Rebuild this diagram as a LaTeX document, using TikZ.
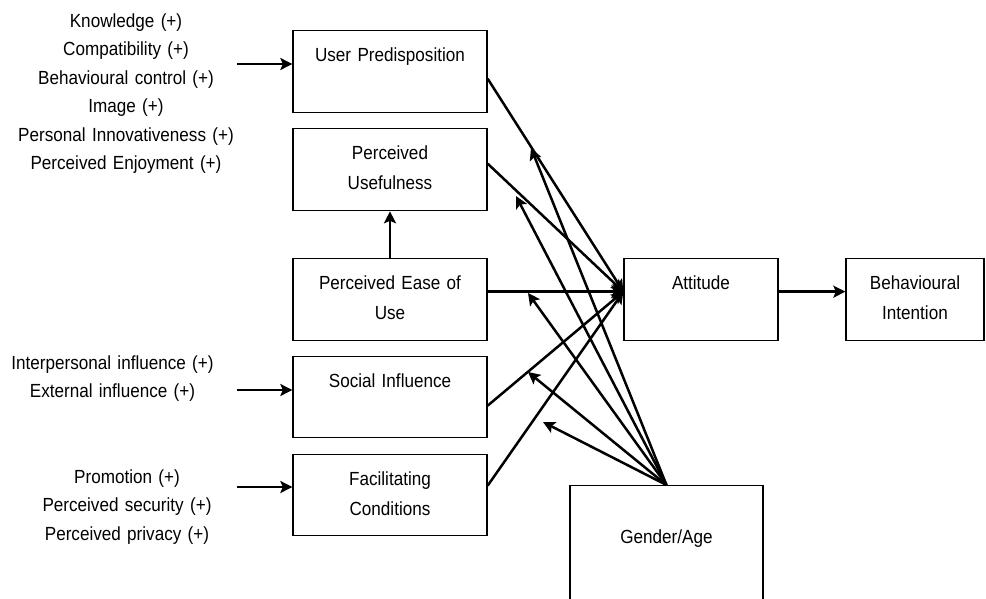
\documentclass[tikz,border=0pt]{standalone}
\usepackage{fontspec}
\setmainfont{Liberation Sans}[FakeStretch=0.9]
\usepackage{tikz}
\usetikzlibrary{arrows.meta}
\tikzstyle{block} = [draw,line width=1.3pt,anchor=north,inner sep=0pt,align=center,text height=31pt,text depth=51pt]
\tikzstyle{factors} = [anchor=north,inner sep=0pt,align=center,text width=250pt,text height=13pt,font=\fontsize{19pt}{28.5pt}\selectfont]
\tikzstyle{arrow} = [line width=2.5pt,-{Stealth[length=12pt,width=12pt,inset=2.5pt]}]

\begin{document}
\begin{tikzpicture}[x=1pt,y=-1pt,font=\fontsize{19pt}{30pt}\selectfont]
\useasboundingbox (0,0) rectangle (986,598);
\clip (0,0) rectangle (986,598);
% factor lists
\node[factors] (upfac) at (126,14) {Knowledge (+)\\Compatibility (+)\\Behavioural control (+)\\Image (+)\\Personal Innovativeness (+)\\Perceived Enjoyment (+)};
\node[factors] (sifac) at (112.5,356) {Interpersonal influence (+)\\External influence (+)};
\node[factors] (fcfac) at (127,470) {Promotion (+)\\Perceived security (+)\\Perceived privacy (+)};
% boxes
\node[block,text width=194pt] (up) at (390,30) {User Predisposition};
\node[block,text width=194pt] (pu) at (390,128) {Perceived\\Usefulness};
\node[block,text width=194pt] (pe) at (390,258) {Perceived Ease of\\Use};
\node[block,text width=194pt,text depth=50pt] (si) at (390,356) {Social Influence};
\node[block,text width=194pt,text depth=50pt] (fc) at (390,454) {Facilitating\\Conditions};
\node[block,text width=154pt] (att) at (701,258) {Attitude};
\node[block,text width=138pt] (bi) at (915,258) {Behavioural\\Intention};
\node[block,text width=193pt,text height=58pt,text depth=150pt] (ga) at (666.5,485) {Gender/Age};
% free ends
\coordinate (upsrc) at (237,64);
\coordinate (sisrc) at (237,390);
\coordinate (fcsrc) at (237,487);
\coordinate (attin) at ([yshift=8pt]att.west);
\coordinate (mup) at (531,148);
\coordinate (mpu) at (516,196);
\coordinate (mpe) at (528,293);
\coordinate (msi) at (528,372);
\coordinate (mfc) at (543,422);
% arrows
\foreach \s in {up,si,fc}
  \draw[arrow] (\s src) -- (\s src -| \s.west);
\draw[arrow] (pe.north) -- (pu.south);
\foreach \n/\d in {up/-7,pu/6,pe/8,si/-8.5,fc/9.5}
  \draw[arrow] ([yshift=\d pt]\n.east) -- (attin);
\draw[arrow] ([yshift=8pt]att.east) -- ([yshift=8pt]bi.west);
\foreach \m in {mup,mpu,mpe,msi,mfc}
  \draw[arrow] (ga.north) -- (\m);
\end{tikzpicture}
\end{document}
